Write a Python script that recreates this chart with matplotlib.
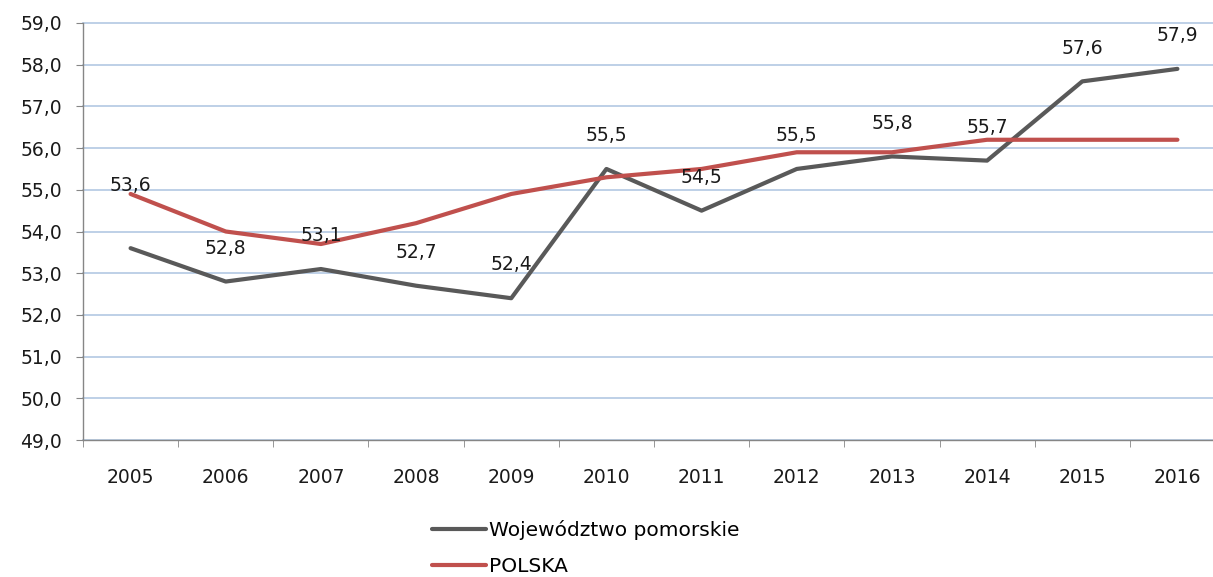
import matplotlib.pyplot as plt
from matplotlib.ticker import FixedLocator, FuncFormatter

years = [2005, 2006, 2007, 2008, 2009, 2010, 2011, 2012, 2013, 2014, 2015, 2016]
pomorskie = [53.6, 52.8, 53.1, 52.7, 52.4, 55.5, 54.5, 55.5, 55.8, 55.7, 57.6, 57.9]
polska = [54.9, 54.0, 53.7, 54.2, 54.9, 55.3, 55.5, 55.9, 55.9, 56.2, 56.2, 56.2]

GRAY = "#595959"
RED = "#c0504d"
GRID = "#b9cde5"
AXIS = "#868686"
TEXT = "#1a1a1a"
FS = 13.5

plt.rcParams["font.family"] = ["DejaVu Sans"]

fig = plt.figure(figsize=(12.13, 5.77), dpi=100)
ax = fig.add_axes([83 / 1213, 1 - 440 / 577, 1142 / 1213, 417 / 577])

x = list(range(len(years)))
ax.plot(x, pomorskie, color=GRAY, lw=3, label="Województwo pomorskie", solid_capstyle="round")
ax.plot(x, polska, color=RED, lw=3, label="POLSKA", solid_capstyle="round")

# data labels above the regional series (first one sits higher in the original)
for i, v in enumerate(pomorskie):
    dy = 45 if i == 0 else 24
    ax.annotate(f"{v:.1f}".replace(".", ","), (i, v), xytext=(0, dy),
                textcoords="offset points", ha="center", va="center",
                fontsize=FS, color=TEXT)

ax.set_xlim(-0.5, len(years) - 0.5)
ax.set_ylim(49, 59)
ax.set_yticks([49 + k for k in range(11)])
ax.yaxis.set_major_formatter(FuncFormatter(lambda v, p: f"{v:.1f}".replace(".", ",")))
ax.set_xticks(x)
ax.set_xticklabels([str(y) for y in years])
ax.xaxis.set_minor_locator(FixedLocator([i - 0.5 for i in range(len(years) + 1)]))

ax.grid(axis="y", color=GRID, lw=1.3)
for gl in ax.get_ygridlines():
    gl.set_clip_on(False)
ax.set_axisbelow(True)
for side in ["top", "right"]:
    ax.spines[side].set_visible(False)
for side in ["left", "bottom"]:
    ax.spines[side].set_color(AXIS)
    ax.spines[side].set_linewidth(1)

ax.tick_params(axis="y", length=5, color=AXIS, labelsize=FS, pad=10, labelcolor=TEXT)
ax.tick_params(axis="x", which="major", length=0, labelsize=FS, pad=20, labelcolor=TEXT)
ax.tick_params(axis="x", which="minor", length=5, color=AXIS)

fig.legend(loc="upper left", bbox_to_anchor=(432 / 1213, 1 - 520 / 577), frameon=False,
           fontsize=14.5, handlelength=2.7, handletextpad=0.15, labelspacing=0.85,
           borderaxespad=0, borderpad=0)

fig.savefig("out.png", dpi=100)
